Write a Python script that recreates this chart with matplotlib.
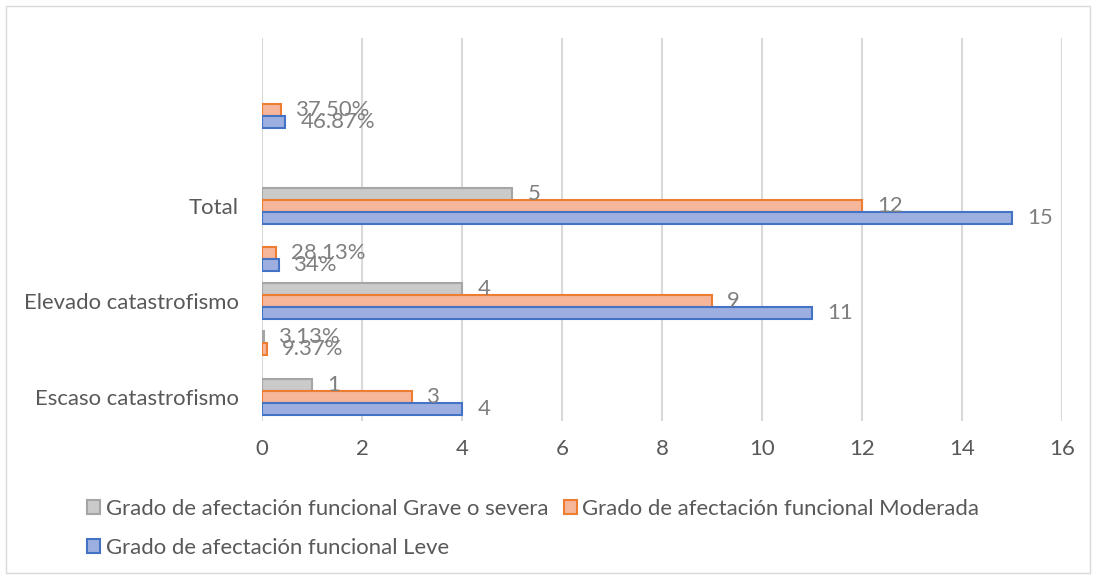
import numpy as np
import matplotlib
matplotlib.use("Agg")
import matplotlib.pyplot as plt
from matplotlib.patches import Rectangle
from matplotlib.font_manager import FontProperties

plt.rcParams['font.family'] = ['Lato', 'DejaVu Sans']

categories = ["Escaso catastrofismo", "", "Elevado catastrofismo", "", "Total", "", "", ""]
nan = np.nan
grave = [1, 0.0313, 4, nan, 5, nan, nan, nan]
moderada = [3, 0.0937, 9, 0.2813, 12, nan, 0.375, nan]
leve = [4, nan, 11, 0.34, 15, nan, 0.4687, nan]
grave_labels = ["1", "3.13%", "4", "", "5", "", "", ""]
moderada_labels = ["3", "9.37%", "9", "28.13%", "12", "", "37.50%", ""]
leve_labels = ["4", "", "11", "34%", "15", "", "46.87%", ""]
series_names = ["Grado de afectación funcional Grave o severa",
                "Grado de afectación funcional Moderada",
                "Grado de afectación funcional Leve"]
xticks = [0, 2, 4, 6, 8, 10, 12, 14, 16]

W, H = 1096, 579
fig = plt.figure(figsize=(W / 100, H / 100), dpi=100)

# font size chosen so the legend text width matches the reference (~444 px)
renderer = fig.canvas.get_renderer()
w10, _, _ = renderer.get_text_width_height_descent(series_names[0], FontProperties(family='Lato', size=10), ismath=False)
fs = 10 * 444 / w10
F = fs / 0.72  # font size in px

ax = fig.add_axes([262 / W, 1 - 421 / H, 800 / W, 383 / H])

y = np.arange(len(categories))
h = 0.25
label_color = "#7f7f7f"

b_grave = ax.barh(y + h, grave, height=h, color="#cacaca", edgecolor="#a5a5a5", linewidth=1.5,
                  label=series_names[0])
b_mod = ax.barh(y, moderada, height=h, color="#f6b69b", edgecolor="#ed7d31", linewidth=1.5,
                label=series_names[1])
b_leve = ax.barh(y - h, leve, height=h, color="#9cafe0", edgecolor="#4472c4", linewidth=1.5,
                 label=series_names[2])

for bars, labs in [(b_grave, grave_labels), (b_mod, moderada_labels), (b_leve, leve_labels)]:
    ax.bar_label(bars, labels=labs, padding=11, color=label_color, fontsize=fs)

ax.set_ylim(-0.5, len(categories) - 0.5)
ax.set_xlim(0, 16)
ax.set_xticks(xticks)
ax.set_yticks(y)
ax.set_yticklabels(categories)
ax.tick_params(axis='both', length=0, labelcolor="#595959", labelsize=fs)
ax.tick_params(axis='y', pad=16.5)
ax.tick_params(axis='x', pad=13)
for s in ax.spines.values():
    s.set_visible(False)
ax.xaxis.grid(True, color="#d9d9d9", linewidth=1.5)
ax.set_axisbelow(True)

handles = [b_grave, b_leve, b_mod]
labels = [series_names[0], series_names[2], series_names[1]]
leg = fig.legend(handles, labels, ncol=2, loc="center left",
                 bbox_to_anchor=(87 / W, 1 - 528.5 / H), frameon=False,
                 fontsize=fs, labelcolor="#595959",
                 handlelength=13 / F, handleheight=13 / F,
                 handletextpad=5.5 / F, columnspacing=16 / F,
                 labelspacing=19 / F, borderpad=0, borderaxespad=0)

fig.patches.append(Rectangle((6 / W, 6 / H), 1 - 12 / W, 1 - 12 / H, transform=fig.transFigure,
                             fill=False, edgecolor="#d9d9d9", linewidth=1))

fig.savefig("out.png", dpi=100)
